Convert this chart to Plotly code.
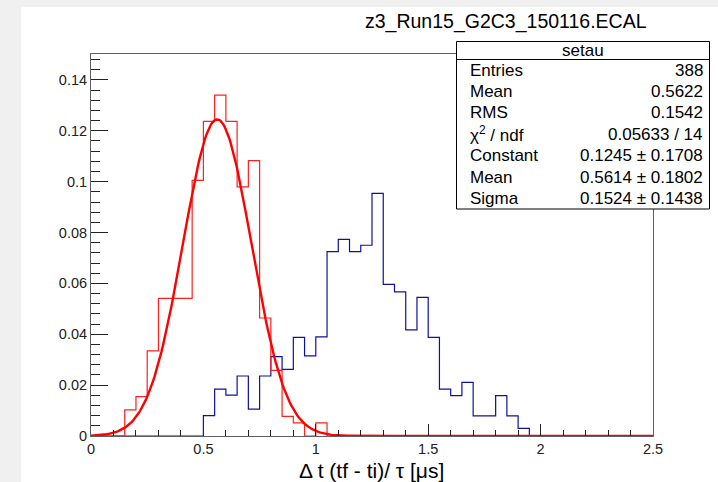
import numpy as np
import plotly.graph_objects as go

# ---------------- data ----------------
bin_width = 0.05
n_bins = 50
red_counts = [0, 0, 0, 4, 6, 13, 21, 21, 21, 39,
              48, 52, 48, 38, 42, 18, 10, 3, 2, 0,
              2, 0, 0, 0, 0, 0, 0, 0, 0, 0,
              0, 0, 0, 0, 0, 0, 0, 0, 0, 0,
              0, 0, 0, 0, 0, 0, 0, 0, 0, 0]
red_entries = 388
blue_values = [0, 0, 0, 0, 0, 0, 0, 0, 0, 0,
               0.0080, 0.0184, 0.0161, 0.0236, 0.0106, 0.0236, 0.0312, 0.0262, 0.0388, 0.0315,
               0.0390, 0.0725, 0.0773, 0.0725, 0.0750, 0.0954, 0.0596, 0.0567, 0.0417, 0.0545,
               0.0388, 0.0184, 0.0159, 0.0211, 0.0079, 0.0079, 0.0159, 0.0079, 0.0030, 0,
               0, 0, 0, 0, 0, 0, 0, 0, 0, 0]
fit_constant = 0.1245
fit_mean = 0.5614
fit_sigma = 0.1524

title_text = "z3_Run15_G2C3_150116.ECAL"
stats_name = "setau"
stats_labels = ["Entries", "Mean", "RMS", "χ<sup>2</sup> / ndf", "Constant", "Mean", "Sigma"]
stats_values = ["388", "0.5622", "0.1542", "0.05633 / 14",
                "0.1245 ± 0.1708", "0.5614 ± 0.1802", "0.1524 ± 0.1438"]
x_title = "Δ t (tf - ti)/ τ [μs]"

# ---------------- geometry ----------------
W, H = 718, 482
PL, PR, PT, PB = 91, 653, 54, 436


def px(x):
    return (x - PL) / (PR - PL)


def py(y):
    return (PB - y) / (PB - PT)


edges = [i * bin_width for i in range(n_bins + 1)]
red_vals = [c / red_entries for c in red_counts]

fig = go.Figure()

FONT = "Liberation Sans, Arial, Helvetica, sans-serif"

# histograms as step lines
fig.add_trace(go.Scatter(x=edges, y=blue_values + [blue_values[-1]], mode="lines",
                         line=dict(color="#10109c", width=1.2, shape="hv"),
                         hoverinfo="skip", showlegend=False))
fig.add_trace(go.Scatter(x=edges, y=red_vals + [red_vals[-1]], mode="lines",
                         line=dict(color="#ff2020", width=1.2, shape="hv"),
                         hoverinfo="skip", showlegend=False))

# gaussian fit from the displayed fit parameters
xf = np.linspace(0, 2.5, 400)
yf = fit_constant * np.exp(-0.5 * ((xf - fit_mean) / fit_sigma) ** 2)
fig.add_trace(go.Scatter(x=xf, y=yf, mode="lines",
                         line=dict(color="#ff0000", width=2.4),
                         hoverinfo="skip", showlegend=False))

shapes = [
    # white pad area over gray canvas
    dict(type="rect", xref="paper", yref="paper", layer="below",
         x0=px(21), x1=px(W + 5), y0=py(H + 5), y1=py(7),
         fillcolor="white", line=dict(width=0)),
    # stats box
    dict(type="rect", xref="paper", yref="paper", layer="above",
         x0=px(456.5), x1=px(709.5), y0=py(209), y1=py(41.5),
         fillcolor="white", line=dict(color="black", width=1)),
    dict(type="line", xref="paper", yref="paper", layer="above",
         x0=px(456.5), x1=px(709.5), y0=py(59.5), y1=py(59.5),
         line=dict(color="black", width=1)),
]

annotations = [
    dict(text=title_text, xref="paper", yref="paper", x=px(649), y=py(22),
         xanchor="right", yanchor="middle", showarrow=False,
         font=dict(family=FONT, size=19.5, color="black")),
    dict(text=stats_name, xref="paper", yref="paper", x=px(583), y=py(51),
         xanchor="center", yanchor="middle", showarrow=False,
         font=dict(family=FONT, size=17, color="black")),
    dict(text=x_title, xref="paper", yref="paper", x=px(371), y=py(471),
         xanchor="center", yanchor="middle", showarrow=False,
         font=dict(family=FONT, size=21, color="black")),
]
for i, (lab, val) in enumerate(zip(stats_labels, stats_values)):
    yc = 59.5 + 21.4 * (i + 0.5)
    annotations.append(dict(text=lab, xref="paper", yref="paper", x=px(468), y=py(yc),
                            xanchor="left", yanchor="middle", showarrow=False,
                            font=dict(family=FONT, size=17, color="black")))
    annotations.append(dict(text=val, xref="paper", yref="paper", x=px(705), y=py(yc),
                            xanchor="right", yanchor="middle", showarrow=False,
                            font=dict(family=FONT, size=17, color="black")))

fig.update_layout(
    width=W, height=H,
    margin=dict(l=PL, r=W - PR, t=PT, b=H - PB, pad=0),
    paper_bgcolor="#f0f0f0",
    plot_bgcolor="rgba(0,0,0,0)",
    shapes=shapes,
    annotations=annotations,
    showlegend=False,
    font=dict(family=FONT, color="#222222"),
)
fig.update_xaxes(range=[0, 2.5], dtick=0.5, tick0=0, ticks="inside", ticklen=12,
                 tickcolor="#222222", tickwidth=1,
                 minor=dict(dtick=0.1, ticks="inside", ticklen=6, tickcolor="#222222", showgrid=False),
                 showline=True, linecolor="#606060", linewidth=1, mirror=True,
                 showgrid=False, zeroline=False,
                 tickfont=dict(family=FONT, size=14.5, color="#222222"))
fig.update_yaxes(range=[0, 0.1502], dtick=0.02, tick0=0, ticks="inside", ticklen=17,
                 tickcolor="#222222", tickwidth=1,
                 minor=dict(dtick=0.004, ticks="inside", ticklen=9, tickcolor="#222222", showgrid=False),
                 showline=True, linecolor="#606060", linewidth=1, mirror=True,
                 showgrid=False, zeroline=False,
                 tickfont=dict(family=FONT, size=14.5, color="#222222"))

fig.write_html("out.html")
